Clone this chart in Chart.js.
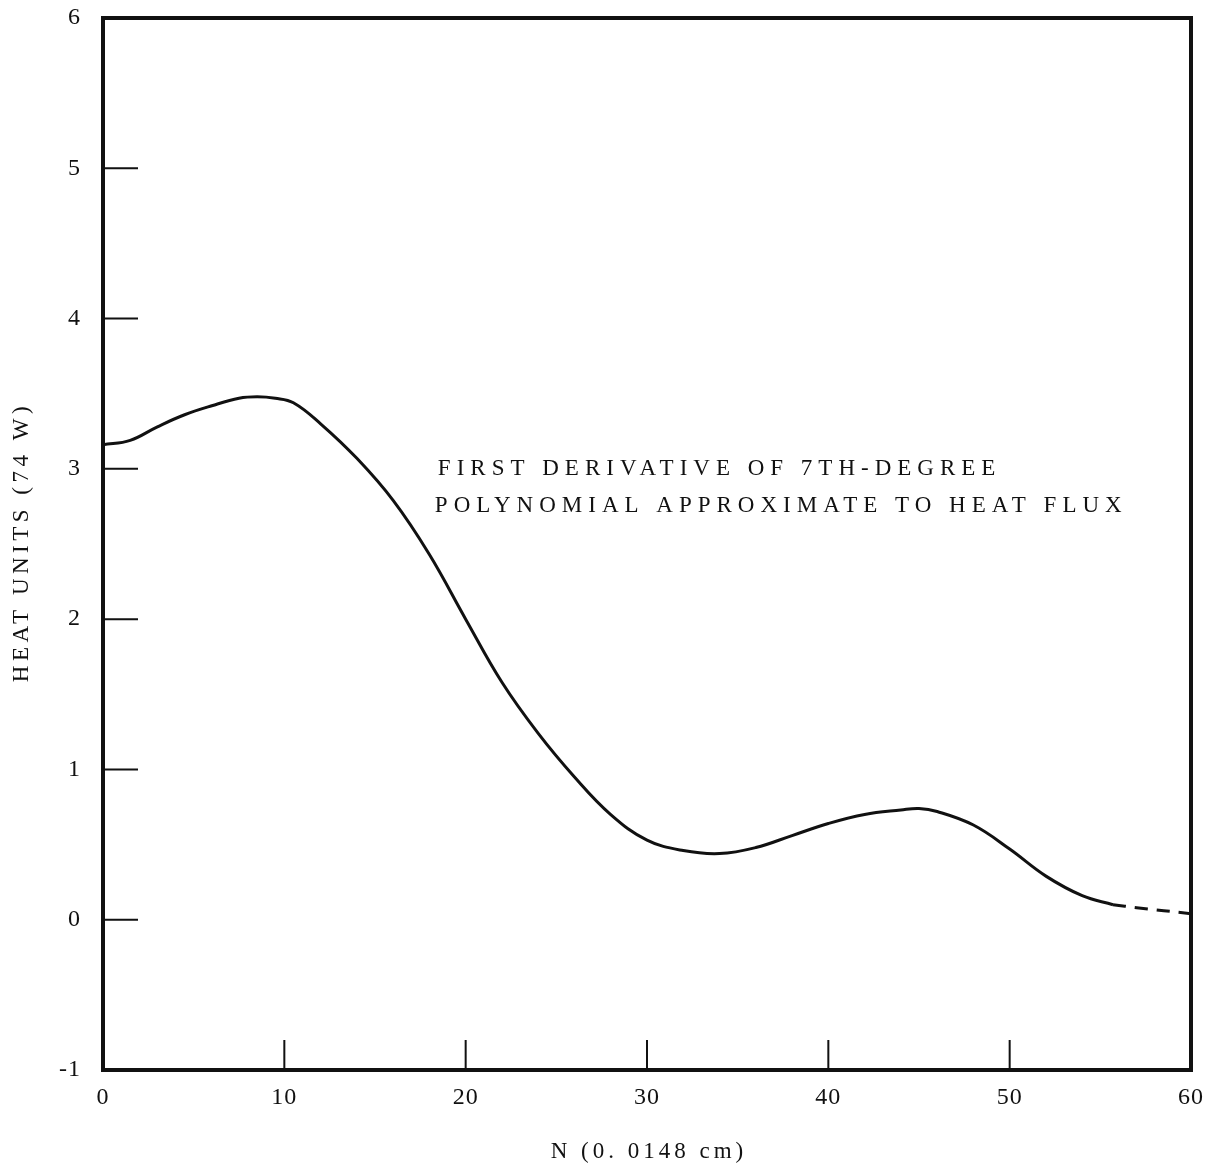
<!DOCTYPE html>
<html>
<head>
<meta charset="utf-8">
<title>Heat units vs N</title>
<script src="https://cdn.jsdelivr.net/npm/chart.js@4.4.0/dist/chart.umd.min.js"></script>
<style>
  html, body { margin: 0; padding: 0; background: #fff; }
  #wrap { width: 1232px; height: 1169px; }
</style>
</head>
<body>
<div id="wrap"><canvas id="myChart" width="1232" height="1169"></canvas></div>
<script>
// derivative curve, solid part
const nValues = [0, 1.5, 3, 4.5, 6, 7.5, 8.5, 9.5, 10.5, 12, 14, 16, 18, 20, 22, 24, 26, 28, 30,
                 32, 34, 36, 38, 40, 42, 44, 45, 46, 48, 50, 52, 54, 55.7];
const heatValues = [3.16, 3.19, 3.28, 3.36, 3.42, 3.47, 3.48, 3.47, 3.44, 3.30, 3.07, 2.79, 2.43, 2.00, 1.58, 1.24, 0.95, 0.70, 0.53,
                    0.46, 0.44, 0.48, 0.56, 0.64, 0.70, 0.73, 0.74, 0.72, 0.63, 0.47, 0.29, 0.16, 0.10];
// extrapolated tail (dashed)
const tailN = [55.7, 57, 58.5, 60];
const tailHeat = [0.10, 0.08, 0.06, 0.04];

const xTicks = [0, 10, 20, 30, 40, 50, 60];
const yTicks = [-1, 0, 1, 2, 3, 4, 5, 6];
const xTitle = 'N (0. 0148 cm)';
const yTitle = 'HEAT UNITS (74 W)';
const noteLines = ['FIRST DERIVATIVE OF 7TH-DEGREE', 'POLYNOMIAL APPROXIMATE TO HEAT FLUX'];
const noteAt = { n: 18.3, heat: [3.0, 2.75] };

const ink = '#111';
const serif = "'Liberation Serif', 'DejaVu Serif', serif";

const toPoints = (xs, ys) => xs.map((v, i) => ({ x: v, y: ys[i] }));

const framePlugin = {
    id: 'frame',
    beforeDraw(chart) {
        chart.ctx.letterSpacing = '1px';
    },
    afterDraw(chart) {
        const { ctx, chartArea: a, scales: { x, y } } = chart;
        ctx.save();
        ctx.strokeStyle = ink;
        ctx.lineWidth = 4;
        ctx.strokeRect(a.left, a.top, a.right - a.left, a.bottom - a.top);

        // short inward tick marks
        ctx.lineWidth = 2;
        ctx.beginPath();
        yTicks.slice(1, -1).forEach(v => {
            const py = y.getPixelForValue(v);
            ctx.moveTo(a.left, py);
            ctx.lineTo(a.left + 35, py);
        });
        xTicks.slice(1, -1).forEach(v => {
            const px = x.getPixelForValue(v);
            ctx.moveTo(px, a.bottom);
            ctx.lineTo(px, a.bottom - 30);
        });
        ctx.stroke();

        ctx.fillStyle = ink;
        ctx.textBaseline = 'middle';

        // axis titles
        ctx.font = '23px ' + serif;
        ctx.textAlign = 'center';
        ctx.letterSpacing = '4px';
        ctx.fillText(xTitle, (a.left + a.right) / 2 + 2, 1152);
        ctx.save();
        ctx.translate(22, (a.top + a.bottom) / 2);
        ctx.rotate(-Math.PI / 2);
        ctx.letterSpacing = '4.5px';
        ctx.fillText(yTitle, 2, 0);
        ctx.restore();

        // curve annotation
        ctx.font = '23px ' + serif;
        ctx.letterSpacing = '6px';
        ctx.textAlign = 'left';
        noteLines.forEach((line, i) => {
            ctx.fillText(line, x.getPixelForValue(noteAt.n) + (i === 0 ? 3 : 0), y.getPixelForValue(noteAt.heat[i]));
        });
        ctx.restore();
    }
};

const ctx = document.getElementById('myChart').getContext('2d');
new Chart(ctx, {
    type: 'line',
    data: {
        datasets: [
            {
                data: toPoints(nValues, heatValues),
                borderColor: ink,
                borderWidth: 3,
                pointRadius: 0,
                tension: 0.4,
                fill: false
            },
            {
                data: toPoints(tailN, tailHeat),
                borderColor: ink,
                borderWidth: 3,
                borderDash: [13, 9],
                pointRadius: 0,
                tension: 0.4,
                fill: false
            }
        ]
    },
    options: {
        responsive: false,
        animation: false,
        devicePixelRatio: 1,
        layout: { padding: { top: 18, right: 41, left: 0, bottom: 0 } },
        plugins: { legend: { display: false }, tooltip: { enabled: false } },
        scales: {
            x: {
                type: 'linear',
                min: 0,
                max: 60,
                afterFit: s => {
                    s.height = 99;
                    s.paddingLeft = 0;
                    s.paddingRight = 0;
                },
                afterBuildTicks: s => { s.ticks = xTicks.map(v => ({ value: v })); },
                grid: { display: false, drawTicks: false },
                border: { display: false },
                ticks: { color: ink, padding: 13, font: { family: serif, size: 24 } }
            },
            y: {
                min: -1,
                max: 6,
                afterFit: s => {
                    s.width = 103;
                    s.paddingTop = 0;
                    s.paddingBottom = 0;
                },
                afterBuildTicks: s => { s.ticks = yTicks.map(v => ({ value: v })); },
                grid: { display: false, drawTicks: false },
                border: { display: false },
                ticks: { color: ink, padding: 22, font: { family: serif, size: 24 } }
            }
        }
    },
    plugins: [framePlugin]
});
</script>
</body>
</html>
